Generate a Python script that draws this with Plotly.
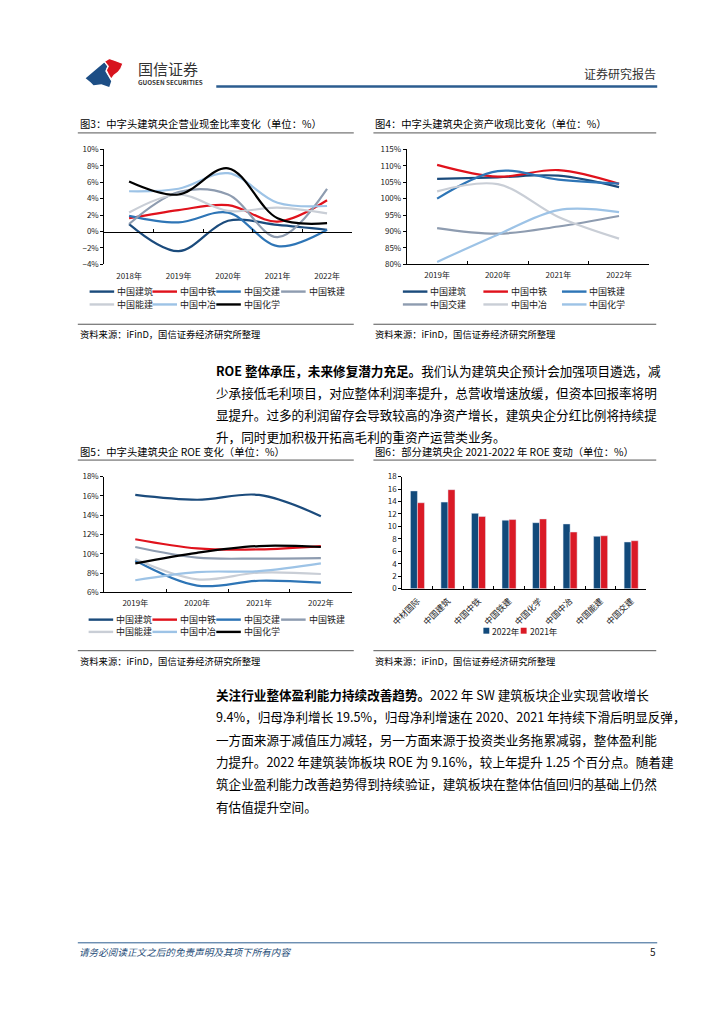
import plotly.graph_objects as go

W, H = 724, 1024
FONT = "Noto Sans CJK SC"


def px(x):
    return x / W


def py(y):
    return 1 - y / H


# ---------------- data ----------------
# Fig 3: operating cash ratio (%)
years_cash = ["2018年", "2019年", "2020年", "2021年", "2022年"]
cash_names = ["中国建筑", "中国中铁", "中国交建", "中国铁建", "中国能建", "中国中冶", "中国化学"]
cash_jianzhu = [0.9, -2.4, 1.3, 0.8, 0.2]
cash_zhongtie = [1.6, 2.6, 3.2, 1.2, 3.8]
cash_jiaojian = [1.9, 1.1, 2.3, -1.8, 0.2]
cash_tiejian = [0.9, 4.8, 4.5, -0.7, 5.2]
cash_nengjian = [2.3, 4.5, 2.5, 2.9, 2.2]
cash_zhongye = [4.9, 5.2, 7.1, 3.5, 3.1]
cash_huaxue = [6.1, 4.5, 7.7, 1.6, 1.0]

# Fig 4: asset cash collection ratio (%)
years_cr = ["2019年", "2020年", "2021年", "2022年"]
cr_names = ["中国建筑", "中国中铁", "中国铁建", "中国交建", "中国中冶", "中国化学"]
cr_jianzhu = [106.0, 106.5, 107.0, 103.5]
cr_zhongtie = [110.3, 106.7, 108.7, 104.5]
cr_tiejian = [100.0, 108.4, 105.8, 104.6]
cr_jiaojian = [91.0, 89.3, 91.5, 94.7]
cr_zhongye = [102.2, 104.4, 94.4, 87.8]
cr_huaxue = [80.7, 89.0, 96.5, 95.9]

# Fig 5: ROE (%)
years_roe = ["2019年", "2020年", "2021年", "2022年"]
roe_names = ["中国建筑", "中国中铁", "中国交建", "中国铁建", "中国能建", "中国中冶", "中国化学"]
roe_jianzhu = [16.1, 15.6, 16.1, 13.9]
roe_zhongtie = [11.5, 10.55, 10.45, 10.8]
roe_jiaojian = [9.3, 6.7, 7.2, 7.0]
roe_tiejian = [10.7, 9.6, 9.5, 9.55]
roe_nengjian = [9.45, 7.35, 8.05, 7.9]
roe_zhongye = [7.25, 8.1, 8.2, 9.0]
roe_huaxue = [9.0, 10.1, 10.8, 10.7]

# Fig 6: ROE 2021-2022
bar_companies = ["中材国际", "中国建筑", "中国中铁", "中国铁建", "中国化学", "中国中冶", "中国能建", "中国交建"]
bar_2022 = [15.7, 13.9, 12.1, 11.0, 10.6, 10.4, 8.4, 7.5]
bar_2021 = [13.8, 15.9, 11.6, 11.1, 11.2, 9.1, 8.5, 7.7]
bar_series = ["2022年", "2021年"]

# ---------------- styles ----------------
C_DARK = "#1B4B7C"
C_RED = "#E0121C"
C_MID = "#2E75B6"
C_GRAY = "#8E9CB0"
C_LGRAY = "#C9CED6"
C_LBLUE = "#9DC3E6"
C_BLACK = "#000000"
BAR_BLUE = "#124A7B"
BAR_RED = "#DA1A26"

cash_colors = [C_DARK, C_RED, C_MID, C_GRAY, C_LGRAY, C_LBLUE, C_BLACK]
cr_colors = [C_DARK, C_RED, C_MID, C_GRAY, C_LGRAY, C_LBLUE]
roe_colors = [C_DARK, C_RED, C_MID, C_GRAY, C_LGRAY, C_LBLUE, C_BLACK]

fig = go.Figure()

cash_series = [cash_jianzhu, cash_zhongtie, cash_jiaojian, cash_tiejian,
               cash_nengjian, cash_zhongye, cash_huaxue]
for name, vals, col in zip(cash_names, cash_series, cash_colors):
    fig.add_trace(go.Scatter(x=years_cash, y=vals, name=name, mode="lines",
                             line=dict(color=col, width=2.2, shape="spline", smoothing=1.0),
                             xaxis="x", yaxis="y", showlegend=False))

cr_series = [cr_jianzhu, cr_zhongtie, cr_tiejian, cr_jiaojian, cr_zhongye, cr_huaxue]
for name, vals, col in zip(cr_names, cr_series, cr_colors):
    fig.add_trace(go.Scatter(x=years_cr, y=vals, name=name, mode="lines",
                             line=dict(color=col, width=2.2, shape="spline", smoothing=1.0),
                             xaxis="x2", yaxis="y2", showlegend=False))

roe_series = [roe_jianzhu, roe_zhongtie, roe_jiaojian, roe_tiejian,
              roe_nengjian, roe_zhongye, roe_huaxue]
for name, vals, col in zip(roe_names, roe_series, roe_colors):
    fig.add_trace(go.Scatter(x=years_roe, y=vals, name=name, mode="lines",
                             line=dict(color=col, width=2.2, shape="spline", smoothing=1.0),
                             xaxis="x3", yaxis="y3", showlegend=False))

fig.add_trace(go.Bar(x=bar_companies, y=bar_2022, name=bar_series[0], marker_color=BAR_BLUE,
                     xaxis="x4", yaxis="y4", showlegend=False))
fig.add_trace(go.Bar(x=bar_companies, y=bar_2021, name=bar_series[1], marker_color=BAR_RED,
                     xaxis="x4", yaxis="y4", showlegend=False))

# ---------------- axes ----------------
tickfont = dict(size=8, color="#222", family=FONT)
base = dict(showgrid=False, zeroline=False, showline=True, linecolor="#000", linewidth=1,
            ticks="outside", tickcolor="#000", ticklen=3, tickfont=tickfont, fixedrange=True)
xbase = dict(base, type="category", tickson="boundaries", ticks="inside", ticklen=3)

fig.update_layout(
    xaxis=dict(xbase, domain=[px(93), px(345)], anchor="free", position=py(228.3),
               ticklabelstandoff=37, range=[-0.5, len(years_cash) - 0.5]),
    yaxis=dict(base, domain=[py(261), py(145)], anchor="x", range=[-4, 10], dtick=2,
               ticksuffix="%"),
    xaxis2=dict(xbase, domain=[px(401), px(648)], anchor="y2", ticklabelstandoff=3,
                range=[-0.5, len(years_cr) - 0.5]),
    yaxis2=dict(base, domain=[py(261), py(145)], anchor="x2", range=[80, 115], dtick=5,
                ticksuffix="%"),
    xaxis3=dict(xbase, domain=[px(93), px(345)], anchor="y3", ticklabelstandoff=3,
                range=[-0.5, len(years_roe) - 0.5]),
    yaxis3=dict(base, domain=[py(592.7), py(475.7)], anchor="x3", range=[6, 18], dtick=2,
                ticksuffix="%"),
    xaxis4=dict(xbase, domain=[px(396.3), px(645)], anchor="y4", tickangle=-45,
                ticklabelstandoff=3, range=[-0.5, len(bar_companies) - 0.5],
                tickfont=dict(size=8.5, color="#222", family=FONT)),
    yaxis4=dict(base, domain=[py(589), py(475.7)], anchor="x4", range=[0, 18], dtick=2),
    barmode="group", bargap=0.54, bargroupgap=0,
)

shapes = []
annotations = []


def hline(x0, x1, y, color="#555", width=1):
    shapes.append(dict(type="line", xref="paper", yref="paper", x0=px(x0), x1=px(x1),
                       y0=py(y), y1=py(y), line=dict(color=color, width=width)))


def text(t, x, y, size, color="#000", xanchor="left", **kw):
    annotations.append(dict(text=t, x=px(x), y=py(y), xref="paper", yref="paper",
                            xanchor=xanchor, yanchor="middle", showarrow=False,
                            borderpad=0,
                            font=dict(size=size, color=color, family=FONT, **kw)))


def line_legend(names, colors, cols_x, rows_y, per_row):
    for i, (n, c) in enumerate(zip(names, colors)):
        r, k = divmod(i, per_row)
        x0, y = cols_x[k], rows_y[r]
        hline(x0, x0 + 25, y, color=c, width=2.4)
        text(n, x0 + 27, y, 9, "#222")


# ---------------- header ----------------
def path(pts):
    return "M " + " L ".join(f"{px(x):.5f},{py(y):.5f}" for x, y in pts) + " Z"


shapes.append(dict(type="path", xref="paper", yref="paper",
                   path=path([(74, 73), (86, 63), (93, 57), (96, 61), (94, 66), (97, 71),
                              (100, 76), (98, 82), (90, 79), (82, 80), (79, 77)]),
                   fillcolor="#1D4E85", line=dict(width=0)))
shapes.append(dict(type="path", xref="paper", yref="paper",
                   path=path([(93, 56), (98, 53), (104, 55), (112, 58), (110, 63), (107, 67),
                              (103, 70), (100, 74), (97, 69), (95, 65), (97, 61)]),
                   fillcolor="#D7141E", line=dict(color="white", width=1.2)))
text("国信证券", 126, 63, 15, "#333")
text("<b>GUOSEN SECURITIES</b>", 126, 77, 6.3, "#333")
text("证券研究报告", 656, 68, 12, "#333", xanchor="right")
hline(207, 656, 81.5, color="#2B5C8F", width=2.5)

# ---------------- chart titles / sources ----------------
text("图3：中字头建筑央企营业现金比率变化（单位：%）", 67, 119, 10.3)
text("图4：中字头建筑央企资产收现比变化（单位：%）", 368, 119, 10.3)
text("图5：中字头建筑央企 ROE 变化（单位：%）", 67, 450.5, 10.3)
text("图6：部分建筑央企 2021-2022 年 ROE 变动（单位：%）", 368, 450.5, 10.3)
for (a, b) in [(66, 347), (367, 655)]:
    hline(a, b, 128.3)
    hline(a, b, 321.7)
    hline(a, b, 459)
    hline(a, b, 651.7)
for x0 in (67, 368):
    text("资料来源：iFinD，国信证券经济研究所整理", x0, 331.7, 9.3)
    text("资料来源：iFinD，国信证券经济研究所整理", x0, 661.7, 9.3)

# ---------------- legends ----------------
line_legend(cash_names, cash_colors, [78, 142, 207, 273], [288.7, 301.7], 4)
line_legend(cr_names, cr_colors, [397, 479, 559], [288.7, 301.7], 3)
line_legend(roe_names, roe_colors, [77, 142, 207, 273], [620.3, 632.7], 4)
for (sx, name, col) in [(479, bar_series[0], BAR_BLUE), (517, bar_series[1], BAR_RED)]:
    shapes.append(dict(type="rect", xref="paper", yref="paper", x0=px(sx), x1=px(sx + 6),
                       y0=py(634.5), y1=py(628.5), fillcolor=col, line=dict(width=0)))
    text(name, sx + 8, 631.7, 8.5, "#222")

# ---------------- body text ----------------
p1 = ["<b>ROE 整体承压，未来修复潜力充足。</b>我们认为建筑央企预计会加强项目遴选，减",
      "少承接低毛利项目，对应整体利润率提升，总营收增速放缓，但资本回报率将明",
      "显提升。过多的利润留存会导致较高的净资产增长，建筑央企分红比例将持续提",
      "升，同时更加积极开拓高毛利的重资产运营类业务。"]
for i, t in enumerate(p1):
    text(t, 206, 368 + 22.3 * i, 12.6)

p2 = ["<b>关注行业整体盈利能力持续改善趋势。</b>2022 年 SW 建筑板块企业实现营收增长",
      "9.4%，归母净利增长 19.5%，归母净利增速在 2020、2021 年持续下滑后明显反弹，",
      "一方面来源于减值压力减轻，另一方面来源于投资类业务拖累减弱，整体盈利能",
      "力提升。2022 年建筑装饰板块 ROE 为 9.16%，较上年提升 1.25 个百分点。随着建",
      "筑企业盈利能力改善趋势得到持续验证，建筑板块在整体估值回归的基础上仍然",
      "有估值提升空间。"]
for i, t in enumerate(p2):
    text(t, 206, 696 + 22.6 * i, 12.6)

# ---------------- footer ----------------
hline(66, 656, 947, color="#2B5C8F", width=1)
text("请务必阅读正文之后的免责声明及其项下所有内容", 66, 956, 9.6, "#1F4E79", style="italic")
text("5", 656, 956, 10, "#222", xanchor="right")

fig.update_layout(
    width=W, height=H, autosize=False,
    margin=dict(l=0, r=0, t=0, b=0),
    paper_bgcolor="white", plot_bgcolor="white",
    font=dict(family=FONT, color="#222"),
    shapes=shapes, annotations=annotations,
    showlegend=False,
)

fig.write_html("out.html", config={"displayModeBar": False},
               post_script="document.body.style.margin='0';")
